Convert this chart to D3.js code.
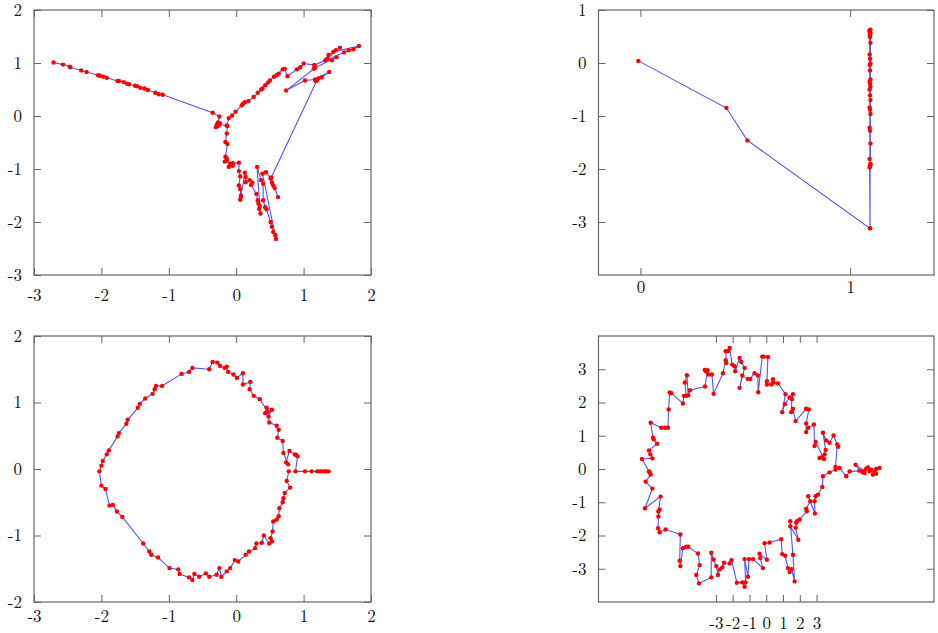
<!DOCTYPE html>
<html>
<head>
<meta charset="utf-8">
<script src="https://cdn.jsdelivr.net/npm/d3@7"></script>
<style>
  body { margin: 0; background: #fff; }
  svg text { font-family: "Latin Modern Roman", "CMU Serif", "Liberation Serif", serif; font-size: 17px; fill: #111; }
</style>
</head>
<body>
<svg id="chart" width="938" height="633"></svg>
<script>
// ---- data: [x, y] in data units, in drawing order ----
var pathA = [
  [-2.71,1.01],[-2.57,0.97],[-2.47,0.93],[-2.46,0.92],[-2.30,0.86],[-2.22,0.83],[-2.05,0.77],[-2.02,0.76],
  [-1.97,0.74],[-1.92,0.72],[-1.76,0.66],[-1.74,0.66],[-1.67,0.64],[-1.62,0.61],[-1.59,0.60],[-1.50,0.57],
  [-1.47,0.56],[-1.42,0.53],[-1.36,0.52],[-1.31,0.49],[-1.20,0.44],[-1.15,0.41],[-1.09,0.40],
  [-0.35,0.06],[-0.25,-0.01],[-0.27,-0.12],[-0.29,-0.17],[-0.30,-0.21],[-0.26,-0.18],[-0.24,-0.14],[-0.27,-0.15],[-0.13,-0.19],
  [-0.14,-0.33],[-0.16,-0.49],[-0.13,-0.53],[-0.16,-0.77],[-0.14,-0.80],[-0.14,-0.84],[-0.17,-0.86],[-0.09,-0.90],
  [-0.05,-0.94],[-0.11,-0.96],[-0.05,-0.89],
  [0.04,-0.88],[0.04,-1.04],[0.06,-1.14],[0.04,-1.31],[0.06,-1.38],[0.07,-1.53],[0.06,-1.58],[0.07,-1.50],
  [0.13,-1.07],[0.14,-1.15],[0.14,-1.25],[0.20,-1.21],[0.24,-1.26],[0.22,-1.30],
  [0.30,-1.47],[0.32,-1.59],[0.33,-1.65],[0.34,-1.75],[0.36,-1.84],[0.35,-1.70],
  [0.31,-0.96],[0.37,-1.21],[0.40,-1.28],[0.40,-1.59],[0.43,-1.72],[0.45,-1.76],
  [0.51,-2.00],[0.53,-2.09],[0.55,-2.19],[0.58,-2.25],[0.59,-2.32],
  [0.39,-1.09],[0.44,-1.06],[0.51,-1.18],[0.53,-1.26],[0.55,-1.31],[0.57,-1.36],[0.62,-1.53],[0.52,-1.16],
  [1.20,0.68],[1.18,0.66],[1.22,0.71],[1.27,0.73],[1.38,0.83],[1.17,0.69],[1.02,0.67],[0.74,0.48],[1.15,0.89],
  [1.16,0.96],[1.17,0.91],[1.49,1.11],[1.42,1.05],[1.35,1.08],[1.32,1.05],[1.54,1.29],[1.48,1.24],[1.37,1.15],
  [1.44,1.21],[1.82,1.32],[1.74,1.26],[1.67,1.24],[1.60,1.20],[1.16,0.96],[1.00,0.99],[0.95,0.92],[0.90,0.88],
  [0.76,0.75],[0.72,0.89],[0.69,0.88],[0.63,0.80],[0.60,0.77],[0.56,0.74],[0.50,0.67],[0.47,0.63],[0.43,0.58],
  [0.39,0.52],[0.37,0.50],[0.32,0.44],[0.26,0.36],[0.18,0.28],[0.13,0.26],[0.10,0.23],[0.08,0.20],[-0.01,0.08],
  [-0.06,0.01],[-0.11,-0.04],[-0.14,-0.18]
];

var pathB = [
  [-0.01,0.04],[0.41,-0.85],[0.51,-1.46],[1.095,-3.12],[1.093,-1.97],[1.097,-1.91],[1.095,-1.95],[1.093,-1.81],
  [1.097,-1.52],[1.095,-1.28],[1.093,-1.22],[1.097,-0.96],[1.095,-0.88],[1.093,-0.84],[1.097,-0.70],[1.095,-0.61],
  [1.093,-0.50],[1.097,-0.45],[1.095,-0.39],[1.093,-0.35],[1.097,-0.31],[1.095,-0.14],[1.093,-0.04],[1.097,-0.01],
  [1.095,0.08],[1.093,0.16],[1.097,0.38],[1.095,0.49],[1.093,0.53],[1.097,0.55],[1.095,0.58],[1.093,0.60],[1.097,0.63],
  [1.095,-3.12],[1.093,0.62],[1.097,-1.91],[1.095,0.57]
];

var pathC = [
  [1.37,-0.035],[1.33,-0.035],[1.31,-0.035],[1.27,-0.035],[1.24,-0.035],[1.20,-0.035],[1.12,-0.035],[1.02,-0.035],[0.88,-0.035],
  [0.91,0.19],[0.89,0.21],[0.87,0.22],[0.79,0.27],[0.74,0.10],[0.77,0.07],[0.70,0.24],[0.69,0.42],[0.61,0.47],
  [0.63,0.59],[0.60,0.65],[0.49,0.70],[0.48,0.79],[0.53,0.89],[0.45,0.92],[0.43,0.84],[0.47,0.86],[0.35,1.05],[0.26,1.10],
  [0.20,1.20],[0.21,1.31],[0.10,1.27],[0.10,1.44],[0.01,1.37],[-0.04,1.42],[-0.12,1.46],[-0.14,1.54],[-0.17,1.52],
  [-0.24,1.55],[-0.28,1.60],[-0.35,1.61],[-0.40,1.50],[-0.65,1.52],[-0.70,1.46],[-0.81,1.43],[-1.10,1.25],[-1.19,1.25],
  [-1.21,1.20],[-1.24,1.13],[-1.35,1.06],[-1.43,0.98],[-1.46,0.92],[-1.61,0.74],[-1.63,0.68],[-1.74,0.54],[-1.76,0.49],
  [-1.89,0.28],[-1.92,0.22],[-1.98,0.12],[-2.00,0.05],[-2.03,-0.035],[-2.00,-0.25],[-1.94,-0.30],[-1.88,-0.55],
  [-1.83,-0.54],[-1.77,-0.64],[-1.69,-0.72],[-1.38,-1.12],[-1.29,-1.24],[-1.26,-1.29],[-1.16,-1.33],[-0.99,-1.49],
  [-0.86,-1.51],[-0.84,-1.58],[-0.70,-1.63],[-0.65,-1.67],[-0.62,-1.58],[-0.55,-1.62],[-0.45,-1.57],[-0.40,-1.62],
  [-0.29,-1.59],[-0.25,-1.49],[-0.22,-1.62],[-0.14,-1.54],[-0.09,-1.49],[-0.02,-1.37],[0.03,-1.39],[0.14,-1.29],
  [0.19,-1.24],[0.28,-1.19],[0.30,-1.12],[0.38,-1.11],[0.41,-1.00],[0.49,-1.12],[0.53,-1.09],[0.51,-1.04],[0.54,-0.94],
  [0.55,-0.79],[0.60,-0.76],[0.63,-0.71],[0.64,-0.59],[0.69,-0.50],[0.70,-0.44],[0.72,-0.36],[0.80,-0.28],[0.75,-0.18],
  [0.78,-0.035]
];

var pathD = [
  [6.75,0.03],[6.55,0.00],[6.45,-0.09],[6.36,-0.17],[6.55,-0.14],[6.26,-0.02],[6.16,-0.07],[6.06,0.05],[5.96,0.01],
  [5.86,-0.12],[5.76,-0.10],[5.56,-0.05],[5.32,0.13],[5.86,-0.05],[4.97,-0.07],[4.77,-0.22],[4.37,0.03],[4.13,0.06],
  [4.23,0.74],[4.29,0.67],[4.01,1.01],[3.77,0.79],[3.57,0.86],[3.38,1.09],[3.54,0.57],[3.48,0.44],[3.34,0.36],
  [3.18,0.33],[3.44,0.30],[2.94,0.81],[2.88,0.69],[2.84,1.34],[2.50,1.24],[2.38,1.11],[2.38,1.37],[2.54,1.79],
  [2.38,1.81],[1.75,1.44],[1.59,1.81],[1.49,1.71],[1.53,2.10],[1.59,2.25],[1.39,2.15],[1.11,1.95],[0.95,1.71],
  [1.15,2.25],[0.70,2.57],[0.44,2.60],[0.40,2.70],[0.30,2.54],[0.04,2.54],[0.04,2.64],[0.10,3.37],[-0.16,3.38],
  [-0.24,3.38],[-0.48,2.31],[-0.50,2.81],[-0.70,2.88],[-0.95,2.71],[-1.09,2.71],[-1.43,2.81],[-1.59,2.44],
  [-1.29,3.04],[-1.49,3.22],[-1.59,3.34],[-1.85,2.94],[-1.89,3.09],[-2.03,3.14],[-2.18,3.64],[-2.28,3.54],
  [-2.42,3.54],[-2.38,3.19],[-2.42,3.27],[-2.58,2.88],[-3.14,2.26],[-3.24,2.84],[-3.44,2.84],[-3.59,2.93],
  [-3.67,2.98],[-3.50,2.97],[-3.65,2.48],[-4.55,2.37],[-4.65,2.22],[-4.73,2.82],[-4.85,2.60],[-4.77,2.20],
  [-4.91,2.20],[-4.97,1.97],[-5.66,2.28],[-5.76,2.30],[-5.82,1.79],[-5.86,1.24],[-6.04,1.24],[-6.26,1.24],
  [-6.89,1.39],[-6.75,0.94],[-6.71,0.89],[-6.51,0.76],[-6.99,0.56],[-6.91,0.44],[-6.79,0.32],[-7.41,0.30],
  [-6.99,-0.07],[-6.95,-0.10],[-6.89,-0.17],[-7.19,-0.38],[-6.79,-0.59],[-7.23,-1.18],[-6.30,-0.83],[-6.43,-1.28],
  [-6.36,-1.22],[-6.43,-1.43],[-6.45,-1.78],[-6.36,-1.90],[-6.00,-1.82],[-5.12,-1.97],[-5.16,-2.76],[-5.12,-2.92],
  [-4.97,-2.38],[-4.77,-2.34],[-4.65,-2.34],[-4.07,-2.54],[-3.97,-2.89],[-4.17,-3.19],[-4.01,-3.44],[-3.28,-3.26],
  [-3.28,-2.52],[-3.14,-2.72],[-2.98,-2.92],[-2.88,-3.19],[-2.78,-3.02],[-2.62,-2.96],[-2.52,-2.82],[-2.18,-2.84],
  [-2.07,-2.74],[-1.75,-3.42],[-1.43,-3.41],[-1.29,-3.54],[-1.23,-3.41],[-1.29,-2.71],[-1.09,-3.24],[-1.03,-2.71],
  [-0.79,-2.71],[-0.20,-2.98],[-0.36,-2.68],[-0.40,-2.55],[0.04,-2.73],[-0.10,-2.23],[0.20,-2.21],[0.89,-2.11],
  [0.95,-2.56],[1.13,-2.61],[1.29,-2.98],[1.39,-3.10],[1.51,-3.01],[1.69,-3.38],[1.59,-2.58],[1.43,-1.57],
  [1.43,-1.72],[1.91,-2.13],[1.75,-1.77],[1.79,-1.62],[1.83,-1.57],[1.99,-1.52],[2.42,-1.27],[2.38,-1.20],
  [2.62,-0.97],[2.50,-0.82],[2.90,-1.34],[2.88,-0.97],[2.94,-0.82],[3.08,-0.77],[3.34,-0.54],[3.38,-0.22],
  [3.77,-0.10],[4.13,-0.02]
];

// axis ranges and tick labels per panel
var xDomA = [-3, 2],   yDomA = [-3, 2];
var xTickA = [-3, -2, -1, 0, 1, 2], yTickA = [-3, -2, -1, 0, 1, 2];
var xDomB = [-0.2, 1.4], yDomB = [-4, 1];
var xTickB = [0, 1], yTickB = [-3, -2, -1, 0, 1];
var xDomC = [-3, 2],   yDomC = [-2, 2];
var xTickC = [-3, -2, -1, 0, 1, 2], yTickC = [-2, -1, 0, 1, 2];
var xDomD = [-10, 10], yDomD = [-4, 4];
var xTickD = [-3, -2, -1, 0, 1, 2, 3], yTickD = [-3, -2, -1, 0, 1, 2, 3];

var svg = d3.select('#chart');
// plain hyphen for negatives, like the original
var fmt = function (d) { return String(d); };

function drawPanel(p) {
  var x = d3.scaleLinear().domain(p.xDom).range([p.left, p.right]);
  var y = d3.scaleLinear().domain(p.yDom).range([p.bottom, p.top]);
  var g = svg.append('g');
  var tk = 7;

  g.append('g')
    .attr('transform', 'translate(0,' + p.bottom + ')')
    .call(d3.axisBottom(x).tickValues(p.xTicks).tickSize(-tk).tickPadding(p.xPad).tickFormat(fmt));
  g.append('g')
    .attr('transform', 'translate(0,' + p.top + ')')
    .call(d3.axisTop(x).tickValues(p.xTicks).tickSize(-tk).tickFormat(''));
  g.append('g')
    .attr('transform', 'translate(' + p.left + ',0)')
    .call(d3.axisLeft(y).tickValues(p.yTicks).tickSize(-tk).tickPadding(12).tickFormat(fmt));
  g.append('g')
    .attr('transform', 'translate(' + p.right + ',0)')
    .call(d3.axisRight(y).tickValues(p.yTicks).tickSize(-tk).tickFormat(''));

  g.selectAll('.domain').remove();
  g.selectAll('.tick line').attr('stroke', '#666');
  g.selectAll('.tick text').attr('font-size', 17).attr('font-family', null).attr('fill', '#111');

  g.append('rect')
    .attr('x', p.left).attr('y', p.top)
    .attr('width', p.right - p.left).attr('height', p.bottom - p.top)
    .attr('fill', 'none').attr('stroke', '#666').attr('stroke-width', 1.2);

  var line = d3.line()
    .x(function (d) { return x(d[0]); })
    .y(function (d) { return y(d[1]); });

  g.append('path')
    .datum(p.data)
    .attr('d', line)
    .attr('fill', 'none')
    .attr('stroke', '#3f3fff')
    .attr('stroke-opacity', 0.9)
    .attr('stroke-width', 1.1);

  g.selectAll('circle')
    .data(p.data)
    .enter()
    .append('circle')
    .attr('cx', function (d) { return x(d[0]); })
    .attr('cy', function (d) { return y(d[1]); })
    .attr('r', 2.2)
    .attr('fill', '#ff0000');
}

drawPanel({ data: pathA, xDom: xDomA, yDom: yDomA, xTicks: xTickA, yTicks: yTickA,
  left: 34, right: 371, top: 10, bottom: 275, xPad: 14 });
drawPanel({ data: pathB, xDom: xDomB, yDom: yDomB, xTicks: xTickB, yTicks: yTickB,
  left: 598.5, right: 934, top: 10, bottom: 275, xPad: 6 });
drawPanel({ data: pathC, xDom: xDomC, yDom: yDomC, xTicks: xTickC, yTicks: yTickC,
  left: 34, right: 371, top: 336, bottom: 602, xPad: 8 });
drawPanel({ data: pathD, xDom: xDomD, yDom: yDomD, xTicks: xTickD, yTicks: yTickD,
  left: 598.5, right: 934, top: 336, bottom: 602, xPad: 15 });
</script>
</body>
</html>
